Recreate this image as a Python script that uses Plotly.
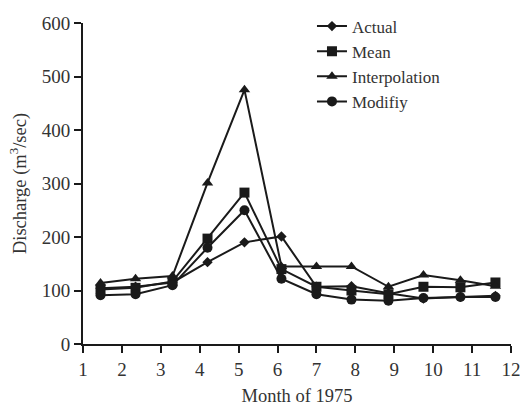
import plotly.graph_objects as go

months = [1.45, 2.35, 3.3, 4.2, 5.15, 6.1, 7.0, 7.9, 8.85, 9.75, 10.7, 11.6]
actual = [104, 107, 115, 153, 190, 201, 107, 108, 95, 85, 88, 90]
mean = [102, 105, 117, 197, 283, 140, 107, 100, 93, 107, 106, 115]
interp = [114, 122, 127, 301, 475, 145, 145, 145, 107, 129, 119, 108]
modify = [91, 93, 110, 180, 250, 122, 93, 83, 81, 86, 88, 88]

names = ["Actual", "Mean", "Interpolation", "Modifiy"]
series = [actual, mean, interp, modify]
symbols = ["diamond", "square", "triangle-up", "circle"]
sizes = [8, 10, 10, 10]

x_ticks = list(range(1, 13))
y_ticks = [0, 100, 200, 300, 400, 500, 600]

fig = go.Figure()
for n, s, sym, sz in zip(names, series, symbols, sizes):
    fig.add_trace(go.Scatter(
        x=months, y=s, name=n, mode="lines+markers",
        line=dict(color="#1a1a1a", width=2),
        marker=dict(symbol=sym, size=sz, color="#1a1a1a"),
    ))

font = "Liberation Serif, Times New Roman, serif"
fig.update_layout(
    width=520, height=409,
    margin=dict(l=83, r=9, t=15, b=65),
    paper_bgcolor="white", plot_bgcolor="white",
    font=dict(family=font, size=19, color="#333"),
    showlegend=True,
    legend=dict(x=0.535, y=1.045, xanchor="left", yanchor="top",
                bgcolor="rgba(0,0,0,0)", font=dict(size=17, color="#333"),
                tracegroupgap=0),
    xaxis=dict(range=[1, 12], tickvals=x_ticks, showline=True, linecolor="#1a1a1a",
               linewidth=2, ticks="outside", ticklen=7, tickwidth=2, tickcolor="#1a1a1a",
               showgrid=False, zeroline=False, automargin=False,
               ticklabeloverflow="allow",
               title=dict(text="Month of 1975", font=dict(size=18.5), standoff=10)),
    yaxis=dict(range=[0, 600], tickvals=y_ticks, showline=True, linecolor="#1a1a1a",
               linewidth=2, ticks="outside", ticklen=7, tickwidth=2, tickcolor="#1a1a1a",
               showgrid=False, zeroline=False, automargin=False,
               ticklabeloverflow="allow",
               title=dict(text="Discharge (m<sup>3</sup>/sec)", font=dict(size=18.5), standoff=10)),
)

fig.write_html("out.html")
